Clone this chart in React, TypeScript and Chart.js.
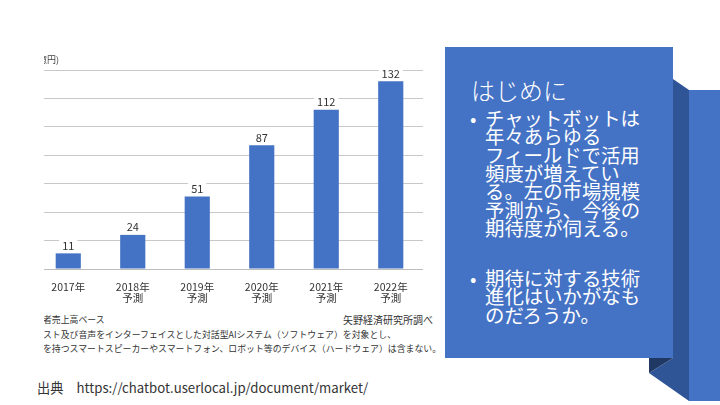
import React, { useEffect, useRef } from "react";
import { Chart, registerables } from "chart.js";

Chart.register(...registerables);

const categories: string[][] = [
  ["2017年"],
  ["2018年", "予測"],
  ["2019年", "予測"],
  ["2020年", "予測"],
  ["2021年", "予測"],
  ["2022年", "予測"],
];
const marketValues: number[] = [11, 24, 51, 87, 112, 132];
const yTicks = { min: 0, max: 140, step: 20 };

const unitLabel = "(億円)";
const noteLines: string[] = [
  "者売上高ベース",
  "スト及び音声をインターフェイスとした対話型AIシステム（ソフトウェア）を対象とし、",
  "を持つスマートスピーカーやスマートフォン、ロボット等のデバイス（ハードウェア）は含まない。",
];
const sourceNote = "矢野経済研究所調べ";
const boxTitle = "はじめに";
const bullet1: string[] = [
  "チャットボットは",
  "年々あらゆる",
  "フィールドで活用",
  "頻度が増えてい",
  "る。左の市場規模",
  "予測から、今後の",
  "期待度が伺える。",
];
const bullet2: string[] = ["期待に対する技術", "進化はいかがなも", "のだろうか。"];
const footer = "出典　https://chatbot.userlocal.jp/document/market/";

const CJK = '"Noto Sans CJK JP", "Noto Sans", sans-serif';

const labelPlugin = {
  id: "barValueLabels",
  afterDatasetsDraw(chart: any) {
    const ctx = chart.ctx;
    const meta = chart.getDatasetMeta(0);
    ctx.save();
    ctx.font = `11px ${CJK}`;
    ctx.textAlign = "center";
    ctx.textBaseline = "middle";
    meta.data.forEach((bar: any, i: number) => {
      const txt = String(marketValues[i]);
      const w = ctx.measureText(txt).width;
      const y = bar.y - 8;
      ctx.fillStyle = "#ffffff";
      ctx.fillRect(bar.x - w / 2 - 3, y - 6, w + 6, 12);
      ctx.fillStyle = "#333333";
      ctx.fillText(txt, bar.x, y);
    });
    ctx.restore();
  },
};

function BarChart() {
  const ref = useRef<HTMLCanvasElement | null>(null);
  useEffect(() => {
    if (!ref.current) return;
    const chart = new Chart(ref.current, {
      type: "bar",
      data: {
        labels: categories,
        datasets: [
          {
            data: marketValues,
            backgroundColor: "#4472C4",
            barPercentage: 0.39,
            categoryPercentage: 1,
          },
        ],
      },
      options: {
        animation: false,
        responsive: false,
        maintainAspectRatio: false,
        layout: { padding: { top: 10, left: 0, right: 0, bottom: 0 } },
        plugins: { legend: { display: false }, tooltip: { enabled: false } },
        scales: {
          y: {
            min: yTicks.min,
            max: yTicks.max,
            ticks: { display: false, stepSize: yTicks.step },
            grid: { color: "#c8c8c8", lineWidth: 1, drawTicks: false },
            border: { display: false },
            afterFit(scale: any) {
              scale.width = 0;
            },
          },
          x: {
            grid: { display: false, drawTicks: false },
            border: { display: true, color: "#bdbdbd" },
            ticks: {
              color: "#333333",
              font: { family: CJK, size: 10.5, lineHeight: 1.1 },
              padding: 12,
              maxRotation: 0,
              autoSkip: false,
            },
            afterFit(scale: any) {
              scale.height = 40;
            },
          },
        },
      },
      plugins: [labelPlugin],
    });
    return () => chart.destroy();
  }, []);
  return (
    <canvas
      ref={ref}
      width={387}
      height={249}
      style={{ position: "absolute", left: -8, top: 10, width: 387, height: 249 }}
    />
  );
}

export default function App() {
  const abs = (s: React.CSSProperties): React.CSSProperties => ({ position: "absolute", ...s });
  return (
    <div
      style={{
        position: "fixed",
        left: 0,
        top: 0,
        width: 720,
        height: 405,
        overflow: "hidden",
        background: "#ffffff",
        fontFamily: CJK,
      }}
    >
      {/* chart image region (cropped) */}
      <div style={abs({ left: 44, top: 50, width: 396, height: 310, overflow: "hidden" })}>
        <BarChart />
        <div
          style={abs({
            left: -9,
            top: 5,
            fontSize: 9,
            color: "#444",
            whiteSpace: "nowrap",
            lineHeight: "10px",
          })}
        >
          {unitLabel}
        </div>
        {noteLines.map((t, i) => (
          <div
            key={i}
            style={abs({
              left: -1,
              top: [265, 280, 294][i],
              fontSize: 8.9,
              lineHeight: "10px",
              color: "#333",
              whiteSpace: "nowrap",
            })}
          >
            {t}
          </div>
        ))}
        <div
          style={abs({
            left: 299,
            top: 264,
            fontSize: 10,
            lineHeight: "11px",
            color: "#333",
            whiteSpace: "nowrap",
          })}
        >
          {sourceNote}
        </div>
      </div>

      {/* folded ribbon shapes */}
      <div style={abs({ left: 689, top: 90, width: 31, height: 311, background: "#4472C4" })} />
      <div
        style={abs({
          left: 640,
          top: 70,
          width: 60,
          height: 340,
          background: "#2F5597",
          clipPath:
            "polygon(33px 9px, 49px 20px, 49px 331px, 9px 303px, 33px 288px)",
        })}
      />
      <div
        style={abs({
          left: 640,
          top: 350,
          width: 40,
          height: 30,
          background: "#1F3864",
          clipPath: "polygon(9px 8px, 33px 8px, 9px 23px)",
        })}
      />
      <div style={abs({ left: 445, top: 47, width: 228, height: 311, background: "#4472C4" })} />

      {/* box text */}
      <div
        style={abs({
          left: 471,
          top: 77,
          fontSize: 24,
          lineHeight: "26px",
          color: "#ffffff",
          fontWeight: 300,
          whiteSpace: "nowrap",
        })}
      >
        {boxTitle}
      </div>
      {[bullet1, bullet2].map((lines, bi) => (
        <div key={bi} style={abs({ left: 470, top: bi === 0 ? 109 : 269, color: "#ffffff" })}>
          <div style={abs({ left: 0, top: 0, fontSize: 19, lineHeight: "18.3px" })}>•</div>
          {lines.map((t, i) => (
            <div
              key={i}
              style={abs({
                left: 15,
                top: i * 18.3,
                fontSize: 19.4,
                lineHeight: "18.3px",
                whiteSpace: "nowrap",
              })}
            >
              {t}
            </div>
          ))}
        </div>
      ))}

      {/* footer */}
      <div
        style={abs({
          left: 37,
          top: 380,
          fontSize: 13.2,
          lineHeight: "16px",
          color: "#333",
          whiteSpace: "nowrap",
        })}
      >
        {footer}
      </div>
    </div>
  );
}
